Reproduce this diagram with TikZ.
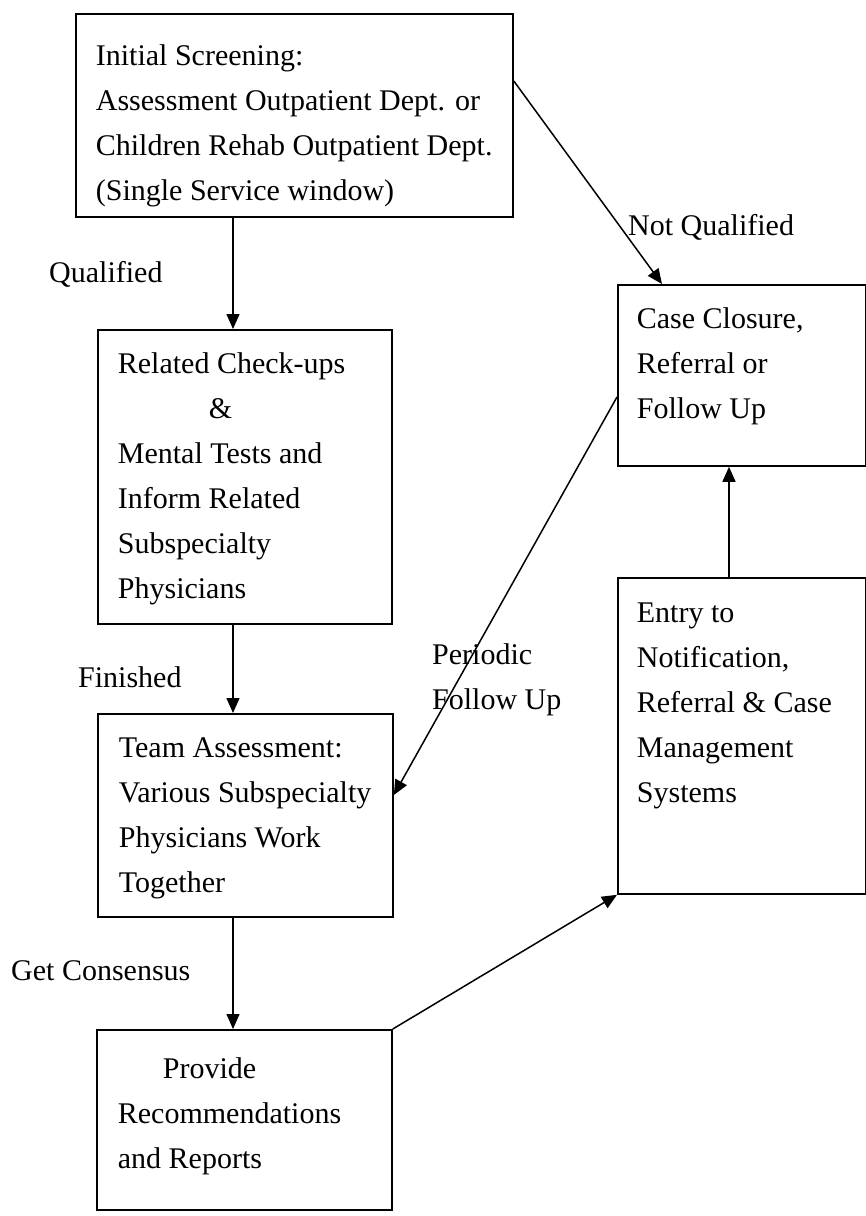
\documentclass[tikz,border=0pt]{standalone}
\usepackage{fontspec}
\setmainfont{Liberation Serif}
\usetikzlibrary{arrows.meta,calc}
\newcommand{\flowfont}{\fontsize{30}{45}\selectfont}
% #1 width, #2 height, #3 left padding, #4 space above first line, #5 lines
\newcommand{\flowbox}[5]{\parbox[c][#2][t]{#1}{\setlength{\leftskip}{#3}\vspace*{#4}\strut #5}}
\begin{document}
\begin{tikzpicture}[x=1pt,y=-1pt,
  box/.style={draw, line width=1.8pt, inner sep=0pt, anchor=north west, font=\flowfont},
  lbl/.style={inner sep=0pt, anchor=base west, font=\flowfont},
  flow/.style={line width=1.5pt, -{Triangle[length=15pt,width=13pt]}}]
\useasboundingbox (0,0) rectangle (866,1216);

% process boxes
\node[box] (b1) at (75,13) {\flowbox{437pt}{203pt}{20pt}{20.5pt}{Initial Screening:\\\strut Assessment Outpatient Dept. or\\\strut Children Rehab Outpatient Dept.\\\strut (Single Service window)}};
\node[box] (b2) at (97,329) {\flowbox{294pt}{294pt}{20pt}{12.5pt}{Related Check-ups\\\strut\hspace*{91pt}\&\\\strut Mental Tests and\\\strut Inform Related\\\strut Subspecialty\\\strut Physicians}};
\node[box] (b3) at (97,713) {\flowbox{295pt}{203pt}{21pt}{12.5pt}{Team Assessment:\\\strut Various Subspecialty\\\strut Physicians Work\\\strut Together}};
\node[box] (b4) at (96,1029) {\flowbox{295pt}{180pt}{21pt}{17.5pt}{\hspace*{45pt}Provide\\\strut Recommendations\\\strut and Reports}};
\node[box] (b5) at (617,284) {\flowbox{248pt}{181pt}{19pt}{12.5pt}{Case Closure,\\\strut Referral or\\\strut Follow Up}};
\node[box] (b6) at (617,577) {\flowbox{248pt}{316pt}{19pt}{13.5pt}{Entry to\\\strut Notification,\\\strut Referral \& Case\\\strut Management\\\strut Systems}};

% connectors
\draw[flow] ($(b1.south west)+(158,0)$) -- ($(b2.north west)+(136,0)$);
\draw[flow] ($(b2.south west)+(136,0)$) -- ($(b3.north west)+(136,0)$);
\draw[flow] ($(b3.south west)+(136,0)$) -- ($(b4.north west)+(137,0)$);
\draw[flow] ($(b1.north east)+(0,68)$) -- ($(b5.north west)+(45,0)$);
\draw[flow] ($(b5.north west)+(0,113)$) -- ($(b3.north east)+(0,82)$);
\draw[flow] (b4.north east) -- (b6.south west);
\draw[flow] ($(b6.north west)+(112,0)$) -- ($(b5.south west)+(112,0)$);

% connector labels
\node[lbl] (lq) at (49,282) {Qualified};
\node[lbl] (lf) at (78,687) {Finished};
\node[lbl] (lg) at (11,980) {Get Consensus};
\node[lbl] (ln) at (628,235) {Not Qualified};
\node[lbl] (lp) at (432,664) {\parbox[t]{200pt}{Periodic\\Follow Up}};
\end{tikzpicture}
\end{document}
